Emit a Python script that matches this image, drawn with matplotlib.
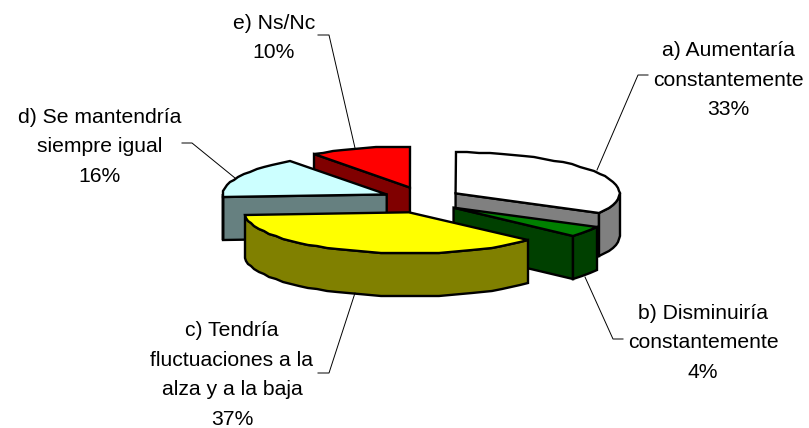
import numpy as np
import matplotlib
matplotlib.use("Agg")
import matplotlib.pyplot as plt
from matplotlib.patches import Polygon

plt.rcParams['font.family'] = ['Liberation Sans', 'DejaVu Sans']

# chart data
labels = ["a) Aumentaría\nconstantemente", "b) Disminuiría\nconstantemente",
          "c) Tendría\nfluctuaciones a la\nalza y a la baja",
          "d) Se mantendría\nsiempre igual", "e) Ns/Nc"]
values = [33, 4, 37, 16, 10]

# styles
top_colors = ["#FFFFFF", "#008000", "#FFFF00", "#CCFFFF", "#FF0000"]
side_colors = ["#808080", "#004000", "#808000", "#668080", "#800000"]

# layout in pixels
cx, cy = 422, 200
rx, ry = 164, 41
depth = 43
explode = 39
squash = 0.335
text_pos = [(728, 80), (703, 343), (232, 375), (100, 147), (274, 38)]
leaders = [[(597, 170), (638, 75), (648, 75)],
           [(585, 277), (613, 339), (623, 339)],
           [(355, 293), (329, 373), (318, 373)],
           [(235, 178), (192, 143), (182, 143)],
           [(355, 148), (329, 35), (318, 35)]]


def rim(a1, a2, ox, oy):
    # angles clockwise from the top, in degrees
    n = max(2, int(abs(a2 - a1) / 4) + 1)
    t = np.radians(np.linspace(a1, a2, n))
    pts = np.column_stack([ox + rx * np.sin(t), oy - ry * np.cos(t)])
    # old chart rendering snapped the outline to whole pixels
    return np.round(pts)


def add_poly(ax, pts, color):
    ax.add_patch(Polygon(pts, closed=True, facecolor=color, edgecolor="black",
                         linewidth=1.7, joinstyle="miter"))


fig = plt.figure(figsize=(8.09, 4.28), dpi=100)
ax = fig.add_axes([0, 0, 1, 1])
ax.set_xlim(0, 809)
ax.set_ylim(428, 0)
ax.axis("off")

total = sum(values)
edges = np.concatenate([[0], np.cumsum(values)]) / total * 360
down = np.array([0, depth])

# back slices first, yellow one last
for i in [4, 3, 0, 1, 2]:
    a1, a2 = edges[i], edges[i + 1]
    mid = np.radians((a1 + a2) / 2)
    ox = cx + explode * np.sin(mid)
    oy = cy - explode * squash * np.cos(mid)
    apex = np.array([ox, oy])

    # flat cut faces, only the ones turned towards the viewer
    if np.sin(np.radians(a1)) < -1e-6:
        p = rim(a1, a1, ox, oy)[0]
        add_poly(ax, [apex, p, p + down, apex + down], side_colors[i])
    if np.sin(np.radians(a2)) > 1e-6:
        p = rim(a2, a2, ox, oy)[0]
        add_poly(ax, [apex, p, p + down, apex + down], side_colors[i])

    # outer wall, only the front half of the pie shows it
    w1, w2 = max(a1, 90), min(a2, 270)
    if w2 > w1:
        arc = rim(w1, w2, ox, oy)
        add_poly(ax, np.vstack([arc, arc[::-1] + down]), side_colors[i])

    add_poly(ax, np.vstack([[apex], rim(a1, a2, ox, oy)]), top_colors[i])

for i in range(len(values)):
    xs, ys = zip(*leaders[i])
    ax.plot(xs, ys, color="black", linewidth=0.7, zorder=5)
    ax.text(text_pos[i][0], text_pos[i][1], f"{labels[i]}\n{values[i]}%",
            ha="center", va="center", fontsize=15.2, linespacing=1.72, zorder=6)

fig.savefig("out.png", dpi=100)
